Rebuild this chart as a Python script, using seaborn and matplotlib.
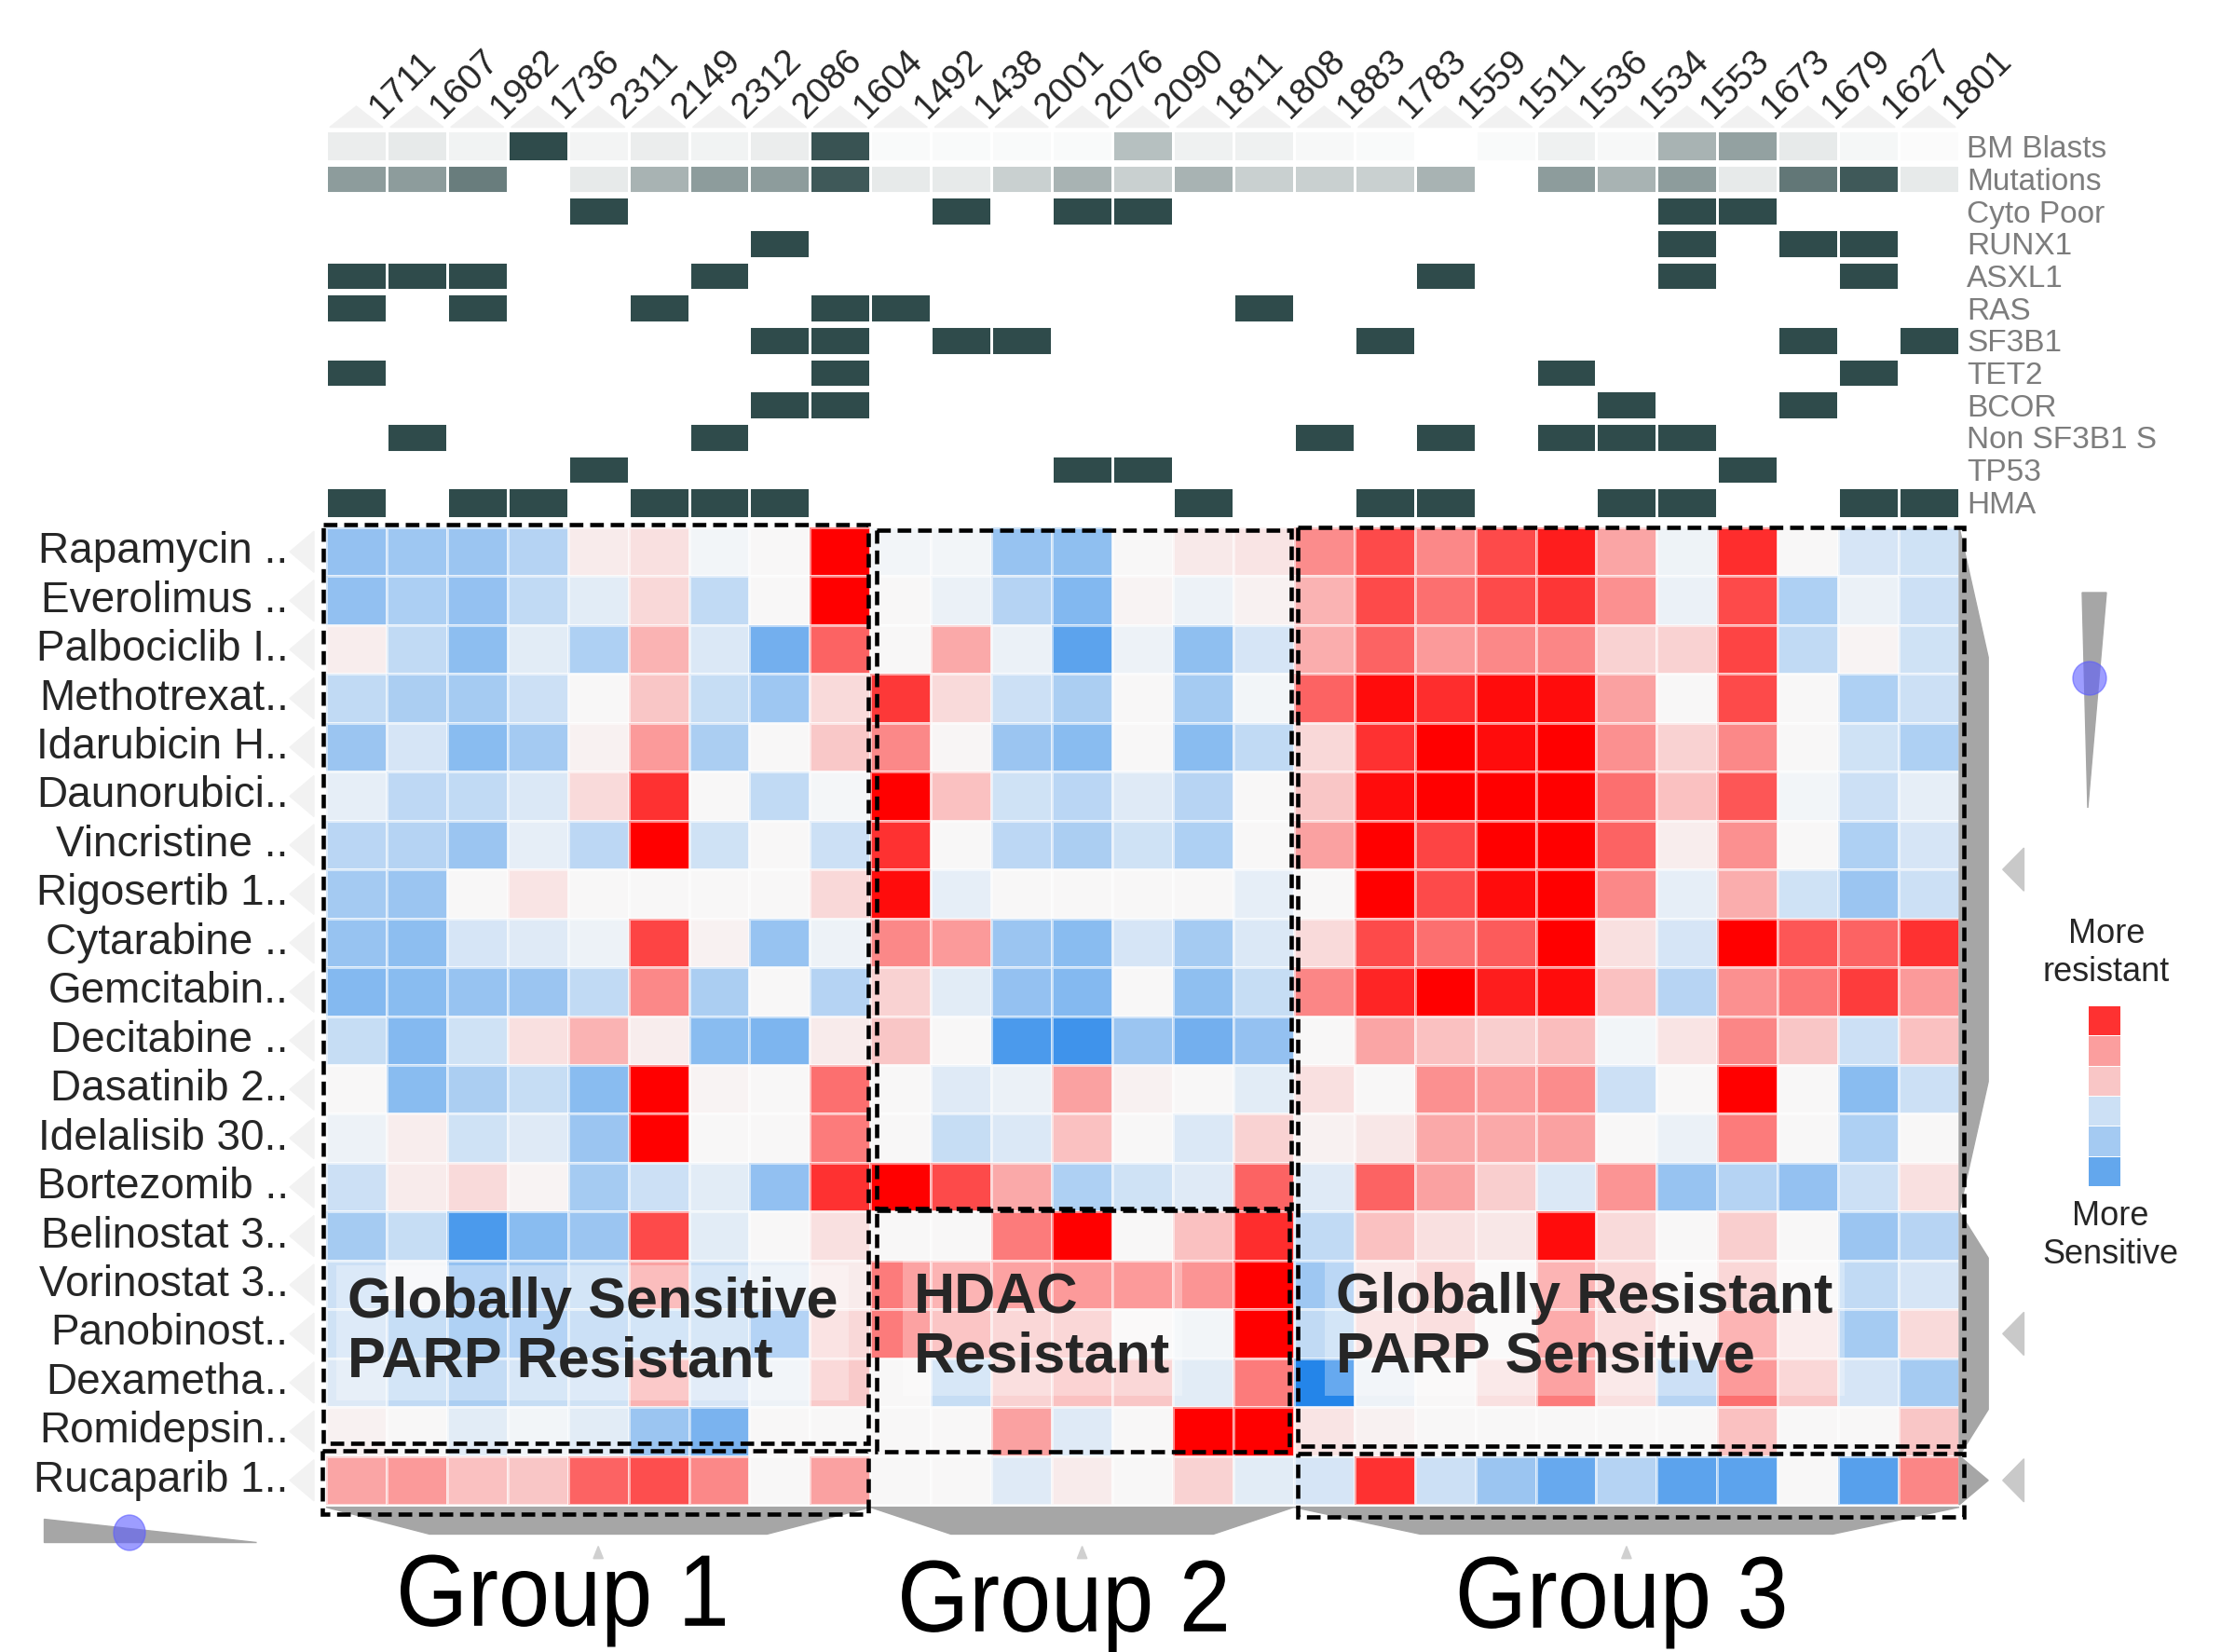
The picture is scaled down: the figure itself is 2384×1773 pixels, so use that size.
import numpy as np
import pandas as pd
import matplotlib
matplotlib.use("Agg")
import matplotlib.pyplot as plt
import matplotlib.transforms as mtransforms
import seaborn as sns
from matplotlib.colors import LinearSegmentedColormap
from matplotlib.patches import Rectangle, Polygon, Ellipse, PathPatch
from matplotlib.textpath import TextPath
from matplotlib import font_manager
from matplotlib.font_manager import FontProperties

sns.set_theme(style="white")
installed = {f.name for f in font_manager.fontManager.ttflist}
REG = 'Liberation Sans' if 'Liberation Sans' in installed else 'DejaVu Sans'
NARROW = 'Liberation Sans Narrow' if 'Liberation Sans Narrow' in installed else REG
plt.rcParams['font.family'] = [REG, 'DejaVu Sans']

# ---------------- data ----------------
patients = ['1711', '1607', '1982', '1736', '2311', '2149', '2312', '2086', '1604',
            '1492', '1438', '2001', '2076', '2090', '1811', '1808',
            '1883', '1783', '1559', '1511', '1536', '1534', '1553', '1673', '1679', '1627', '1801']
group_sizes = [9, 7, 11]
group_names = ['Group 1', 'Group 2', 'Group 3']

drugs = ['Rapamycin ..', 'Everolimus ..', 'Palbociclib I..', 'Methotrexat..', 'Idarubicin H..',
         'Daunorubici..', 'Vincristine ..', 'Rigosertib 1..', 'Cytarabine ..', 'Gemcitabin..',
         'Decitabine ..', 'Dasatinib 2..', 'Idelalisib 30..', 'Bortezomib ..', 'Belinostat 3..',
         'Vorinostat 3..', 'Panobinost..', 'Dexametha..', 'Romidepsin..', 'Rucaparib 1..']
row_group_sizes = [14, 5, 1]

# drug response (negative = more sensitive, positive = more resistant)
group1_vals = [
    [-0.45, -0.40, -0.42, -0.30, 0.05, 0.10, -0.03, 0.00, 1.00],
    [-0.46, -0.34, -0.45, -0.25, -0.10, 0.13, -0.25, 0.00, 1.00],
    [0.04, -0.25, -0.48, -0.10, -0.33, 0.28, -0.13, -0.60, 0.60],
    [-0.25, -0.35, -0.37, -0.20, 0.00, 0.20, -0.22, -0.40, 0.12],
    [-0.42, -0.15, -0.50, -0.38, 0.03, 0.38, -0.35, 0.00, 0.19],
    [-0.08, -0.26, -0.25, -0.13, 0.12, 0.80, 0.00, -0.25, -0.02],
    [-0.28, -0.30, -0.42, -0.08, -0.27, 1.00, -0.18, 0.00, -0.20],
    [-0.38, -0.42, 0.00, 0.08, 0.00, 0.00, 0.00, 0.00, 0.13],
    [-0.43, -0.48, -0.15, -0.11, -0.05, 0.72, 0.03, -0.43, -0.05],
    [-0.52, -0.50, -0.43, -0.42, -0.25, 0.45, -0.35, 0.00, -0.30],
    [-0.22, -0.52, -0.18, 0.10, 0.28, 0.04, -0.50, -0.55, 0.05],
    [0.00, -0.50, -0.35, -0.22, -0.50, 1.00, 0.02, 0.00, 0.55],
    [-0.05, 0.04, -0.18, -0.11, -0.42, 1.00, 0.00, 0.00, 0.50],
    [-0.20, 0.05, 0.12, 0.02, -0.37, -0.20, -0.10, -0.46, 0.80],
    [-0.37, -0.22, -0.78, -0.50, -0.42, 0.70, -0.10, 0.00, 0.10],
    [-0.20, -0.02, -0.45, -0.38, -0.25, 0.35, -0.22, -0.08, 0.05],
    [-0.18, -0.33, -0.48, -0.45, -0.30, -0.25, -0.22, -0.45, 0.13],
    [-0.12, -0.25, -0.35, -0.22, -0.18, 0.28, -0.15, -0.05, 0.18],
    [0.03, 0.00, -0.10, -0.03, -0.10, -0.42, -0.57, 0.00, 0.00],
    [0.33, 0.38, 0.22, 0.20, 0.60, 0.68, 0.45, 0.00, 0.35],
]
group2_vals = [
    [-0.03, -0.03, -0.43, -0.47, 0.00, 0.06, 0.08],
    [0.00, -0.06, -0.30, -0.53, 0.02, -0.05, 0.03],
    [0.00, 0.32, -0.06, -0.70, -0.05, -0.47, -0.15],
    [0.77, 0.12, -0.20, -0.35, 0.00, -0.37, -0.03],
    [0.45, 0.01, -0.42, -0.50, 0.00, -0.50, -0.25],
    [1.00, 0.22, -0.18, -0.28, -0.11, -0.29, 0.00],
    [0.80, 0.00, -0.27, -0.35, -0.18, -0.33, 0.00],
    [0.95, -0.08, 0.00, 0.00, 0.00, 0.00, -0.08],
    [0.45, 0.38, -0.42, -0.50, -0.15, -0.37, -0.13],
    [0.15, -0.10, -0.45, -0.52, 0.00, -0.47, -0.22],
    [0.20, 0.00, -0.78, -0.83, -0.42, -0.60, -0.45],
    [0.00, -0.11, -0.06, 0.35, 0.03, 0.00, -0.10],
    [0.00, -0.22, -0.13, 0.22, 0.00, -0.13, 0.15],
    [1.00, 0.70, 0.32, -0.33, -0.18, -0.11, 0.60],
    [0.00, 0.00, 0.50, 1.00, 0.00, 0.22, 0.82],
    [0.50, 0.40, 0.50, 0.55, 0.55, 0.40, 1.00],
    [0.50, 0.30, 0.20, 0.20, 0.00, -0.03, 1.00],
    [0.00, -0.22, 0.15, 0.22, 0.20, -0.10, 0.50],
    [0.00, 0.00, 0.35, -0.11, 0.00, 1.00, 1.00],
    [0.00, 0.00, -0.11, 0.05, 0.00, 0.15, -0.10],
]
group3_vals = [
    [0.43, 0.70, 0.45, 0.70, 0.88, 0.33, -0.04, 0.82, 0.00, -0.15, -0.18],
    [0.28, 0.70, 0.55, 0.70, 0.78, 0.42, -0.06, 0.70, -0.33, -0.06, -0.20],
    [0.30, 0.60, 0.38, 0.45, 0.46, 0.15, 0.15, 0.72, -0.25, 0.02, -0.18],
    [0.60, 0.95, 0.82, 0.95, 0.95, 0.35, 0.00, 0.70, 0.00, -0.33, -0.20],
    [0.13, 0.80, 1.00, 0.95, 1.00, 0.42, 0.15, 0.45, 0.00, -0.18, -0.33],
    [0.20, 0.95, 1.00, 1.00, 1.00, 0.55, 0.22, 0.65, -0.03, -0.20, -0.08],
    [0.35, 1.00, 0.72, 1.00, 1.00, 0.60, 0.04, 0.42, 0.00, -0.33, -0.15],
    [0.00, 1.00, 0.70, 0.95, 1.00, 0.45, -0.08, 0.30, -0.18, -0.42, -0.20],
    [0.12, 0.70, 0.55, 0.63, 1.00, 0.10, -0.15, 1.00, 0.65, 0.60, 0.80],
    [0.46, 0.85, 1.00, 0.88, 0.95, 0.22, -0.29, 0.42, 0.52, 0.75, 0.38],
    [0.00, 0.33, 0.22, 0.17, 0.24, -0.03, 0.08, 0.46, 0.20, -0.20, 0.22],
    [0.10, 0.00, 0.42, 0.38, 0.43, -0.20, 0.00, 1.00, 0.00, -0.50, -0.20],
    [0.03, 0.07, 0.32, 0.32, 0.35, 0.00, -0.06, 0.50, 0.00, -0.33, 0.00],
    [-0.11, 0.60, 0.35, 0.17, -0.13, 0.40, -0.43, -0.30, -0.45, -0.20, 0.10],
    [-0.25, 0.22, 0.10, 0.07, 0.95, 0.12, 0.00, 0.17, 0.00, -0.42, -0.29],
    [-0.40, 0.10, 0.20, 0.00, 0.40, 0.20, 0.00, 0.20, 0.00, -0.25, -0.15],
    [-0.25, 0.12, 0.15, 0.00, 0.45, 0.17, 0.05, 0.40, 0.08, -0.37, 0.12],
    [-0.95, -0.05, 0.00, 0.10, 0.50, 0.10, -0.29, 0.55, 0.20, -0.15, -0.37],
    [0.08, 0.03, 0.00, 0.00, 0.00, 0.00, 0.00, 0.22, 0.00, 0.00, 0.20],
    [-0.15, 0.80, -0.20, -0.42, -0.65, -0.30, -0.70, -0.70, 0.00, -0.72, 0.46],
]

# clinical / mutation annotation rows
nan = np.nan
bm_blasts = [0.10, 0.12, 0.07, 1.00, 0.06, 0.10, 0.07, 0.10, 0.95, 0.03, 0.03, 0.03, 0.03, 0.35,
             0.08, 0.08, 0.04, 0.03, nan, 0.03, 0.08, 0.04, 0.42, 0.52, 0.12, 0.05, 0.02]
mutations = [0.55, 0.55, 0.72, nan, 0.12, 0.42, 0.55, 0.55, 0.92, 0.12, 0.12, 0.26, 0.42, 0.26,
             0.42, 0.26, 0.26, 0.26, 0.42, nan, 0.55, 0.42, 0.55, 0.12, 0.75, 0.92, 0.12]
cyto_poor = [0, 0, 0, 0, 1, 0, 0, 0, 0, 0, 1, 0, 1, 1, 0, 0, 0, 0, 0, 0, 0, 0, 1, 1, 0, 0, 0]
runx1 =     [0, 0, 0, 0, 0, 0, 0, 1, 0, 0, 0, 0, 0, 0, 0, 0, 0, 0, 0, 0, 0, 0, 1, 0, 1, 1, 0]
asxl1 =     [1, 1, 1, 0, 0, 0, 1, 0, 0, 0, 0, 0, 0, 0, 0, 0, 0, 0, 1, 0, 0, 0, 1, 0, 0, 1, 0]
ras =       [1, 0, 1, 0, 0, 1, 0, 0, 1, 1, 0, 0, 0, 0, 0, 1, 0, 0, 0, 0, 0, 0, 0, 0, 0, 0, 0]
sf3b1 =     [0, 0, 0, 0, 0, 0, 0, 1, 1, 0, 1, 1, 0, 0, 0, 0, 0, 1, 0, 0, 0, 0, 0, 0, 1, 0, 1]
tet2 =      [1, 0, 0, 0, 0, 0, 0, 0, 1, 0, 0, 0, 0, 0, 0, 0, 0, 0, 0, 0, 1, 0, 0, 0, 0, 1, 0]
bcor =      [0, 0, 0, 0, 0, 0, 0, 1, 1, 0, 0, 0, 0, 0, 0, 0, 0, 0, 0, 0, 0, 1, 0, 0, 1, 0, 0]
non_sf3b1 = [0, 1, 0, 0, 0, 0, 1, 0, 0, 0, 0, 0, 0, 0, 0, 0, 1, 0, 1, 0, 1, 1, 1, 0, 0, 0, 0]
tp53 =      [0, 0, 0, 0, 1, 0, 0, 0, 0, 0, 0, 0, 1, 1, 0, 0, 0, 0, 0, 0, 0, 0, 0, 1, 0, 0, 0]
hma =       [1, 0, 1, 1, 0, 1, 1, 1, 0, 0, 0, 0, 0, 0, 1, 0, 0, 1, 1, 0, 0, 1, 1, 0, 0, 1, 1]
annot_labels = ['BM Blasts', 'Mutations', 'Cyto Poor', 'RUNX1', 'ASXL1', 'RAS', 'SF3B1', 'TET2',
                'BCOR', 'Non SF3B1 S', 'TP53', 'HMA']

legend_levels = [0.80, 0.36, 0.20, -0.20, -0.38, -0.67]

# ---------------- figure ----------------
W, H = 2384, 1773
fig = plt.figure(figsize=(W / 100, H / 100), dpi=100)

drug_cmap = LinearSegmentedColormap.from_list('drug', ['#1a7fe8', '#f8f8f8', '#ff0000'])
gray_cmap = LinearSegmentedColormap.from_list('annot', ['#ffffff', '#2f4b4b'])

heat_df = pd.DataFrame(np.hstack([group1_vals, group2_vals, group3_vals]),
                       index=drugs, columns=patients)
annot_df = pd.DataFrame([bm_blasts, mutations, cyto_poor, runx1, asxl1, ras, sf3b1, tet2,
                         bcor, non_sf3b1, tp53, hma], index=annot_labels, columns=patients)

ncol = len(patients)
nrow = len(drugs)

# main heatmap
ax = fig.add_axes([350 / W, 1 - 1615 / H, 1753 / W, 1049 / H])
sns.heatmap(heat_df, ax=ax, cmap=drug_cmap, vmin=-1, vmax=1, cbar=False,
            linewidths=1.0, linecolor=(1, 1, 1, 0.55), xticklabels=False, yticklabels=True)
ax.set_xlabel('')
ax.set_ylabel('')
ax.set_yticklabels(drugs, rotation=0, fontsize=33, ha='right')
ax.tick_params(axis='y', length=0, pad=29)
ax.tick_params(axis='x', bottom=False, labelbottom=False)

# annotation heatmap
axa = fig.add_axes([350 / W, 1 - 556 / H, 1753 / W, 416 / H])
sns.heatmap(annot_df, ax=axa, cmap=gray_cmap, vmin=0, vmax=1, cbar=False,
            linewidths=0.8, linecolor='white', xticklabels=True, yticklabels=True)
axa.hlines(np.arange(1, len(annot_labels)), 0, ncol, colors='white', linewidth=5)
axa.set_xlabel('')
axa.set_ylabel('')
axa.tick_params(axis='x', bottom=False, labelbottom=False, top=False, labeltop=True, length=0, pad=9)
axa.set_xticklabels(patients, rotation=45, ha='left', va='baseline', rotation_mode='anchor', fontsize=28)
shift = mtransforms.ScaledTranslation(0.28, 0.0, fig.dpi_scale_trans)
for t in axa.get_xticklabels():
    t.set_transform(t.get_transform() + shift)
axa.yaxis.tick_right()
axa.tick_params(axis='y', left=False, labelleft=False, right=False, labelright=True, length=0, pad=6)
axa.set_yticklabels(annot_labels, rotation=0, fontsize=24, color='#7d7d7d', family=[NARROW, 'DejaVu Sans'])

# light carets above the columns
for c in range(ncol):
    axa.add_patch(Polygon([(c + 0.06, -0.1), (c + 0.94, -0.1), (c + 0.5, -0.75)],
                          closed=True, color='#f1f1f1', clip_on=False, zorder=0))

# light carets next to the row labels
for r in range(nrow):
    ax.add_patch(Polygon([(-0.6, r + 0.5), (-0.2, r + 0.08), (-0.2, r + 0.92)],
                         closed=True, color='#f2f2f2', clip_on=False, zorder=0))

# dendrogram style bands: right of rows, below columns
starts = np.cumsum([0] + row_group_sizes[:-1])
for s, n in zip(starts, row_group_sizes):
    e = s + n
    ins = 0.19 * n if n > 1 else 0.5
    ax.add_patch(Polygon([(ncol, s), (ncol + 0.48, s + ins), (ncol + 0.48, e - ins), (ncol, e)],
                         closed=True, color='#a6a6a6', clip_on=False, zorder=1))
    mid = s + n / 2
    ax.add_patch(Polygon([(ncol + 0.72, mid), (ncol + 1.07, mid - 0.44), (ncol + 1.07, mid + 0.44)],
                         closed=True, color='#c9c9c9', clip_on=False, zorder=1))

gstarts = np.cumsum([0] + group_sizes[:-1])
for s, n in zip(gstarts, group_sizes):
    e = s + n
    ins = 0.19 * n
    ax.add_patch(Polygon([(s, nrow + 0.05), (e, nrow + 0.05), (e - ins, nrow + 0.6), (s + ins, nrow + 0.6)],
                         closed=True, color='#a6a6a6', clip_on=False, zorder=1))
    mid = s + n / 2
    ax.add_patch(Polygon([(mid - 0.08, nrow + 1.1), (mid + 0.08, nrow + 1.1), (mid, nrow + 0.85)],
                         closed=True, color='#d0d0d0', clip_on=False, zorder=1))

# dashed cluster boxes
dash = dict(fill=False, edgecolor='black', linewidth=3.3, linestyle=(0, (3.2, 1.6)),
            clip_on=False, zorder=6)
g1, g2, g3 = gstarts
ax.add_patch(Rectangle((g1 - 0.04, -0.06), group_sizes[0], nrow - 1.2, **dash))
ax.add_patch(Rectangle((g1 - 0.06, nrow - 1.1), group_sizes[0] + 0.02, 1.3, **dash))
ax.add_patch(Rectangle((g2 + 0.1, 0.06), group_sizes[1] - 0.15, row_group_sizes[0] - 0.12, **dash))
ax.add_patch(Rectangle((g2 + 0.1, row_group_sizes[0] - 0.03), group_sizes[1] - 0.18,
                       row_group_sizes[1] - 0.05, **dash))
ax.add_patch(Rectangle((g3 + 0.07, 0.0), group_sizes[2], nrow - 1.2, **dash))
ax.add_patch(Rectangle((g3 + 0.07, nrow - 1.05), group_sizes[2], 1.3, **dash))

# cluster descriptions
box = dict(boxstyle='square,pad=0.2', fc='white', ec='none', alpha=0.3)
ax.text(g1 + 0.35, 16.48, 'Globally Sensitive\nPARP Resistant', fontsize=44, fontweight='bold',
        ha='left', va='center', linespacing=1.15, bbox=box, zorder=5)
ax.text(g2 + 0.72, 16.39, 'HDAC\nResistant', fontsize=44, fontweight='bold',
        ha='left', va='center', linespacing=1.15, bbox=box, zorder=5)
ax.text(g3 + 0.7, 16.39, 'Globally Resistant\nPARP Sensitive', fontsize=44, fontweight='bold',
        ha='left', va='center', linespacing=1.15, bbox=box, zorder=5)

# group labels: tall, condensed lettering (scaled text outlines)
label_centers_px = [(604, 1718), (1142, 1724), (1741, 1720)]
prop = FontProperties(family=REG)
ref_bb = TextPath((0, 0), group_names[0], size=100, prop=prop).get_extents()
sx, sy = 348 / ref_bb.width, 99 / ref_bb.height
for name, (cx, cy) in zip(group_names, label_centers_px):
    tp = TextPath((0, 0), name, size=100, prop=prop)
    bb = tp.get_extents()
    tr = (mtransforms.Affine2D()
          .translate(-(bb.x0 + bb.x1) / 2, -(bb.y0 + bb.y1) / 2)
          .scale(sx, sy)
          .translate(cx, H - cy)
          .scale(1 / W, 1 / H) + fig.transFigure)
    fig.patches.append(PathPatch(tp, facecolor='black', edgecolor='none', transform=tr, figure=fig))

# colour legend
axl = fig.add_axes([2241 / W, 1 - 1273 / H, 35 / W, 194 / H])
sns.heatmap(pd.DataFrame(legend_levels), ax=axl, cmap=drug_cmap, vmin=-1, vmax=1, cbar=False,
            xticklabels=False, yticklabels=False, linewidths=0.5, linecolor='white')
fig.text(2261 / W, 1 - 1023 / H, 'More\nresistant', ha='center', va='center', fontsize=26,
         linespacing=1.25)
fig.text(2265 / W, 1 - 1326 / H, 'More\nSensitive', ha='center', va='center', fontsize=26,
         linespacing=1.25)


# slider widgets (figure pixel positions)
def px(x, y):
    return (x / W, 1 - y / H)


fig.patches.append(Polygon([px(2235, 636), px(2261, 636), px(2241, 867)], closed=True,
                           color='#a6a6a6', transform=fig.transFigure, figure=fig))
fig.patches.append(Ellipse(px(2243, 728), 36 / W, 36 / H, color='#5c5cff', alpha=0.6,
                           transform=fig.transFigure, figure=fig))
fig.patches.append(Polygon([px(47, 1630), px(47, 1655), px(275, 1655)], closed=True,
                           color='#a6a6a6', transform=fig.transFigure, figure=fig))
fig.patches.append(Ellipse(px(139, 1645), 34 / W, 38 / H, color='#5c5cff', alpha=0.6,
                           transform=fig.transFigure, figure=fig))

fig.savefig('out.png', dpi=100)
